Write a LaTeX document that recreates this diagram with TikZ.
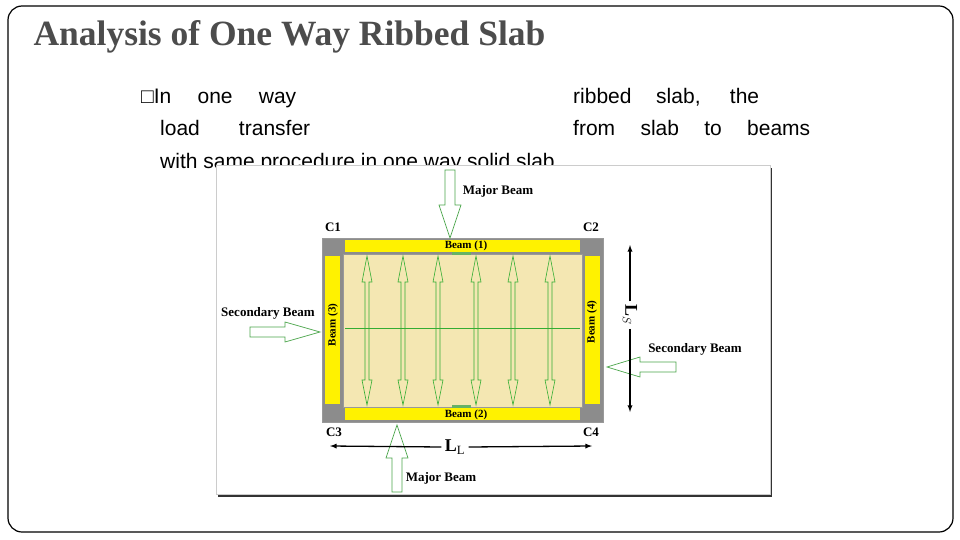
\documentclass[tikz,border=0pt]{standalone}
\usepackage{fontspec}
\setmainfont{Liberation Serif}
\newfontfamily\sansf{Liberation Sans}
\begin{document}
\begin{tikzpicture}[x=1pt,y=-1pt,
  fat/.style={draw=green!50!black!70,fill=white,line width=0.7pt},
  thin/.style={draw=green!60!black!80,line width=0.6pt},
  lbl/.style={font=\bfseries\fontsize{11}{12}\selectfont,inner sep=1pt},
  big/.style={font=\bfseries\fontsize{13}{14}\selectfont,inner sep=1pt},
  body/.style={font=\sansf\fontsize{21}{24}\selectfont,inner sep=0pt,anchor=base west}]
\useasboundingbox (0,0) rectangle (960,540);
\draw[line width=1.2pt,rounded corners=14pt] (8,6) rectangle (953,532);
\node[font=\bfseries\fontsize{35.5}{38}\selectfont,text=black!70,anchor=west] (title) at (30,37) {Analysis of One Way Ribbed Slab};
\node[body] (t1) at (141,104) {\makebox[155pt][s]{\char"25A1In one way}};
\node[body] (t2) at (573,104) {\makebox[186pt][s]{ribbed slab, the}};
\node[body] (t3) at (160,136) {\makebox[150pt][s]{load transfer}};
\node[body] (t4) at (573,136) {\makebox[237pt][s]{from slab to beams}};
\node[body] (t5) at (160,168) {with same procedure in one way solid slab};
% picture frame
\fill[black!80] (218,168) rectangle (772,497);
\fill[white] (216,165) rectangle (770,494);
\draw[black!20] (216,165) rectangle (770,494);
% plan
\fill[black!45] (322,238) rectangle (603,422);
\fill[yellow] (345,240) rectangle (580,252);
\fill[yellow] (345,408) rectangle (580,420);
\fill[yellow] (325,256) rectangle (340,404);
\fill[yellow] (585,256) rectangle (600,404);
\fill[white!60!yellow!70!brown!60] (343,254) rectangle (582,407);
\draw[black!40,line width=0.6pt] (343,254) rectangle (582,407);
\draw[black!40,line width=0.6pt] (322,238) rectangle (603,422);
\fill[green!50!black!60] (452,252) rectangle (471,255);
\fill[green!50!black!60] (452,405) rectangle (471,408);
\node[lbl] (b1) at (466,246) {Beam (1)};
\node[lbl] (b2) at (466,415) {Beam (2)};
\node[lbl,rotate=90] (b3) at (333,325) {Beam (3)};
\node[lbl,rotate=90] (b4) at (592,322) {Beam (4)};
\node[big] (c1) at (333,227) {C1};
\node[big] (c2) at (591,227) {C2};
\node[big] (c3) at (334,432) {C3};
\node[big] (c4) at (591,432) {C4};
\coordinate (hl) at (345,328);\coordinate (hr) at (580,328);
\draw[thin] (hl) -- (hr);
\foreach \x in {367,403,438,476,513,550}{
  \draw[thin] (\x,256) -- (\x+5,282) -- (\x+2,282) -- (\x+2,380) -- (\x+5,380) -- (\x,405) -- (\x-5,380) -- (\x-2,380) -- (\x-2,282) -- (\x-5,282) -- cycle;
}
% big arrows
\draw[fat] (445,170) -- (455,170) -- (455,205) -- (461,205) -- (450,238) -- (439,205) -- (445,205) -- cycle;
\node[big] (mb1) at (498,191) {Major Beam};
\draw[fat] (392,492) -- (402,492) -- (402,458) -- (408,458) -- (397,425) -- (386,458) -- (392,458) -- cycle;
\node[big] (mb2) at (441,478) {Major Beam};
\draw[fat] (250,327) -- (285,327) -- (285,322) -- (320,332) -- (285,342) -- (285,337) -- (250,337) -- cycle;
\node[big] (sb1) at (268,313) {Secondary Beam};
\draw[fat] (676,362) -- (640,362) -- (640,357) -- (607,367) -- (640,377) -- (640,372) -- (676,372) -- cycle;
\node[big] (sb2) at (695,349) {Secondary Beam};
% dimensions
\node[font=\bfseries\fontsize{18}{19}\selectfont,rotate=-90] (ls) at (630,315) {L$_S$};
\draw[-latex,line width=1.3pt] (ls.west) -- (630,245);
\draw[-latex,line width=1.3pt] (ls.east) -- (630,412);
\node[font=\bfseries\fontsize{18}{19}\selectfont] (ll) at (455,447) {L$_{\mathrm L}$};
\draw[-latex,line width=1.3pt] (ll.west) -- (330,446);
\draw[-latex,line width=1.3pt] (ll.east) -- (592,446);
\end{tikzpicture}
\end{document}
